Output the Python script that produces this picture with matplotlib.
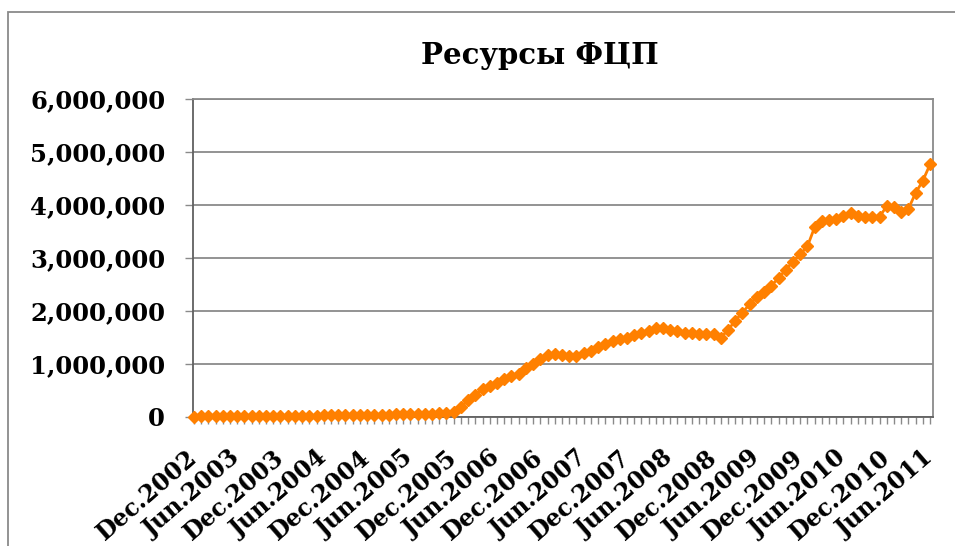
import matplotlib
matplotlib.use("Agg")
import matplotlib.pyplot as plt
from matplotlib.patches import Rectangle
from matplotlib.ticker import FuncFormatter, FixedLocator

# Monthly values, Dec.2002 .. Jun.2011 (103 months)
resources = [
    8000, 10000, 11000, 12000, 12000, 13000, 14000, 15000, 16000, 17000, 18000, 19000,
    20000, 22000, 24000, 25000, 27000, 28000, 30000, 32000, 33000, 35000, 37000, 38000,
    40000, 42000, 44000, 46000, 48000, 50000, 53000, 56000, 60000, 64000, 70000, 78000, 90000,
    190000, 320000, 420000, 520000, 580000, 650000, 710000, 770000, 820000, 920000,
    1000000, 1100000, 1170000, 1190000, 1170000, 1150000, 1160000, 1200000, 1250000,
    1320000, 1380000, 1430000, 1470000, 1500000, 1550000, 1580000, 1630000, 1680000,
    1670000, 1640000, 1620000, 1590000, 1580000, 1570000, 1570000, 1570000, 1500000,
    1640000, 1820000, 1970000, 2130000, 2260000, 2360000, 2480000, 2620000, 2780000,
    2930000, 3070000, 3220000, 3580000, 3690000, 3720000, 3740000, 3800000, 3840000,
    3790000, 3780000, 3770000, 3780000, 3980000, 3970000, 3860000, 3930000, 4230000,
    4460000, 4770000,
]
tick_labels = [
    "Dec.2002", "Jun.2003", "Dec.2003", "Jun.2004", "Dec.2004", "Jun.2005",
    "Dec.2005", "Jun.2006", "Dec.2006", "Jun.2007", "Dec.2007", "Jun.2008",
    "Dec.2008", "Jun.2009", "Dec.2009", "Jun.2010", "Dec.2010", "Jun.2011",
]
title = "Ресурсы ФЦП"

W, H = 955, 546
fig = plt.figure(figsize=(W / 100, H / 100), dpi=100)
fig.patch.set_facecolor("white")
ax = fig.add_axes([193 / W, 1 - 417 / H, (933 - 193) / W, (417 - 99) / H])

font = dict(family="DejaVu Serif", weight="bold")
grey = "#8a8a8a"

x = list(range(len(resources)))
ax.plot(x, resources, color="#FF8000", lw=2.0, marker="D", markersize=6.3,
        markeredgecolor="#FF8000", zorder=3, clip_on=False)

ax.set_xlim(-0.12, 102.4)
ax.set_ylim(0, 6000000)
ax.set_yticks(range(0, 6000001, 1000000))
ax.yaxis.set_major_formatter(FuncFormatter(lambda v, p: f"{int(v):,}"))
ax.grid(axis="y", color=grey, lw=1.3)
ax.set_axisbelow(True)

ax.xaxis.set_major_locator(FixedLocator(list(range(0, len(resources), 6))))
ax.xaxis.set_minor_locator(FixedLocator(x))
ax.set_xticklabels(tick_labels, rotation=41, ha="right", va="center",
                   rotation_mode="anchor", fontsize=17, **font)
ax.tick_params(axis="x", which="both", length=5, width=1, color=grey, direction="out", pad=22)
ax.tick_params(axis="y", length=6, width=1, color=grey, pad=14)
for lab in ax.get_yticklabels():
    lab.set_fontsize(17.5)
    lab.set_fontfamily("DejaVu Serif")
    lab.set_fontweight("bold")

for s in ax.spines.values():
    s.set_color(grey)
    s.set_linewidth(1.3)
ax.spines["left"].set_color("#606060")
ax.spines["bottom"].set_color("#606060")

fig.text(540 / W, 1 - 55 / H, title, ha="center", va="center", fontsize=21, **font)

fig.add_artist(Rectangle((8 / W, -0.2), 1.2, 1.2 - 12 / H, transform=fig.transFigure,
                         fill=False, edgecolor=grey, lw=1.3))

fig.savefig("out.png", dpi=100)
